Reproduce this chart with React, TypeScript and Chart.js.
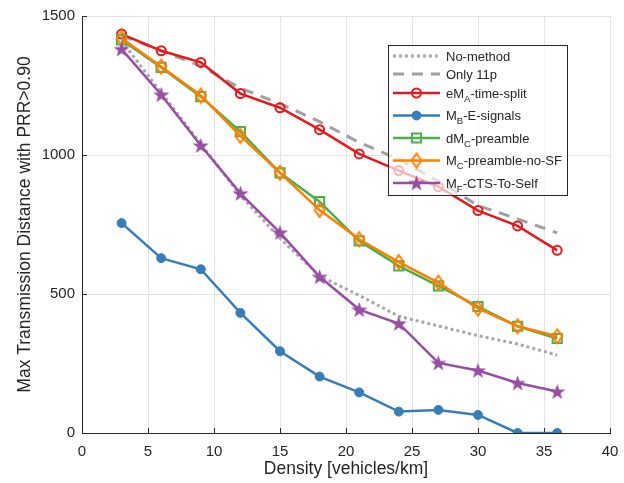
import React, { useEffect, useRef } from 'react';
import { Chart, registerables } from 'chart.js';

Chart.register(...registerables);

// ---------- data ----------
const density = [3, 6, 9, 12, 15, 18, 21, 24, 27, 30, 33, 36];
const noMethod = [1410, 1225, 1040, 855, 700, 565, 495, 420, 385, 350, 320, 280];
const only11p = [1430, 1375, 1320, 1240, 1185, 1120, 1045, 985, 905, 818, 770, 720];
const eMATimeSplit = [1435, 1375, 1333, 1221, 1170, 1091, 1004, 944, 886, 800, 745, 657];
const mBESignals = [755, 629, 589, 432, 294, 203, 146, 77, 83, 65, 0, 0];
const dMCPreamble = [1414, 1315, 1210, 1084, 936, 832, 691, 601, 529, 455, 384, 340];
const mCPreambleNoSF = [1420, 1318, 1214, 1069, 936, 802, 697, 615, 541, 448, 384, 348];
const mFCtsToSelf = [1381, 1217, 1034, 862, 721, 562, 444, 394, 252, 225, 180, 149];

const xTickValues = [0, 5, 10, 15, 20, 25, 30, 35, 40];
const yTickValues = [0, 500, 1000, 1500];

const xTitle = 'Density [vehicles/km]';
const yTitle = 'Max Transmission Distance with PRR>0.90';

// legend label parts: [main, subscript, rest]
const legendLabels: [string, string, string][] = [
  ['No-method', '', ''],
  ['Only 11p', '', ''],
  ['eM', 'A', '-time-split'],
  ['M', 'B', '-E-signals'],
  ['dM', 'C', '-preamble'],
  ['M', 'C', '-preamble-no-SF'],
  ['M', 'F', '-CTS-To-Self'],
];

// ---------- styles ----------
const FONT = '"Liberation Sans", Arial, Helvetica, sans-serif';
const AXIS_COLOR = '#262626';
const GRID_COLOR = '#e3e3e3';
const RED = 'rgb(228,26,28)';
const BLUE = 'rgb(55,126,184)';
const GREEN = 'rgb(77,175,74)';
const ORANGE = 'rgb(255,127,0)';
const PURPLE = 'rgb(152,78,163)';
const GRAY_DOT = 'rgb(168,168,168)';
const GRAY_DASH = 'rgb(160,160,160)';

function makeStar(color: string, outer: number): HTMLCanvasElement {
  const size = Math.ceil(outer * 2 + 2);
  const c = document.createElement('canvas');
  c.width = size;
  c.height = size;
  const g = c.getContext('2d')!;
  const cx = size / 2;
  const cy = size / 2 + outer * 0.08;
  const inner = outer * 0.4;
  g.beginPath();
  for (let i = 0; i < 10; i++) {
    const r = i % 2 === 0 ? outer : inner;
    const a = -Math.PI / 2 + (i * Math.PI) / 5;
    const x = cx + r * Math.cos(a);
    const y = cy + r * Math.sin(a);
    if (i === 0) g.moveTo(x, y);
    else g.lineTo(x, y);
  }
  g.closePath();
  g.fillStyle = color;
  g.fill();
  return c;
}

function makeDiamond(color: string, w: number, h: number, lw: number): HTMLCanvasElement {
  const c = document.createElement('canvas');
  c.width = w + lw * 2;
  c.height = h + lw * 2;
  const g = c.getContext('2d')!;
  const cx = c.width / 2;
  const cy = c.height / 2;
  g.beginPath();
  g.moveTo(cx, cy - h / 2);
  g.lineTo(cx + w / 2, cy);
  g.lineTo(cx, cy + h / 2);
  g.lineTo(cx - w / 2, cy);
  g.closePath();
  g.lineWidth = lw;
  g.strokeStyle = color;
  g.stroke();
  return c;
}

const insideTicksPlugin = {
  id: 'insideTicks',
  beforeDatasetsDraw(chart: any) {
    const { ctx, chartArea, scales } = chart;
    ctx.save();
    ctx.strokeStyle = AXIS_COLOR;
    ctx.lineWidth = 1;
    ctx.beginPath();
    for (const v of xTickValues) {
      const x = Math.round(scales.x.getPixelForValue(v)) + 0.5;
      ctx.moveTo(x, chartArea.bottom);
      ctx.lineTo(x, chartArea.bottom - 5);
    }
    for (const v of yTickValues) {
      const y = Math.round(scales.y.getPixelForValue(v)) + 0.5;
      ctx.moveTo(chartArea.left, y);
      ctx.lineTo(chartArea.left + 5, y);
    }
    ctx.stroke();
    ctx.restore();
  },
};

function drawMarker(ctx: CanvasRenderingContext2D, ds: any, x: number, y: number) {
  const style = ds.pointStyle;
  if (style instanceof HTMLCanvasElement) {
    ctx.drawImage(style, x - style.width / 2, y - style.height / 2);
    return;
  }
  if (!ds.pointRadius) return;
  ctx.beginPath();
  if (style === 'rect') {
    const s = Math.SQRT1_2 * ds.pointRadius;
    ctx.rect(x - s, y - s, 2 * s, 2 * s);
  } else {
    ctx.arc(x, y, ds.pointRadius, 0, Math.PI * 2);
  }
  if (ds.pointBackgroundColor && ds.pointBackgroundColor !== 'transparent') {
    ctx.fillStyle = ds.pointBackgroundColor;
    ctx.fill();
  }
  ctx.lineWidth = ds.pointBorderWidth || 1;
  ctx.strokeStyle = ds.pointBorderColor;
  ctx.stroke();
}

const legendPlugin = {
  id: 'matlabLegend',
  afterDatasetsDraw(chart: any) {
    const { ctx, chartArea } = chart;
    const bx = chartArea.right - 222;
    const by = chartArea.top + 29;
    const bw = 179;
    const bh = 150;
    const rows = [56, 74, 93, 115.5, 138, 160.5, 183].map((v) => v - 16 + chartArea.top);
    ctx.save();
    ctx.fillStyle = 'rgba(255,255,255,0.68)';
    ctx.fillRect(bx, by, bw, bh);
    ctx.strokeStyle = AXIS_COLOR;
    ctx.lineWidth = 1;
    ctx.strokeRect(Math.round(bx) + 0.5, Math.round(by) + 0.5, bw, bh);
    const datasets = chart.data.datasets;
    legendLabels.forEach((lab, i) => {
      const ds = datasets[i];
      const y = rows[i];
      const x0 = bx + 5;
      const x1 = bx + 52;
      ctx.save();
      ctx.beginPath();
      ctx.setLineDash(ds.borderDash || []);
      ctx.lineWidth = ds.borderWidth;
      ctx.strokeStyle = ds.borderColor;
      ctx.moveTo(x0, y);
      ctx.lineTo(x1, y);
      ctx.stroke();
      ctx.setLineDash([]);
      drawMarker(ctx, ds, (x0 + x1) / 2, y);
      ctx.restore();

      ctx.fillStyle = AXIS_COLOR;
      ctx.textBaseline = 'alphabetic';
      ctx.textAlign = 'left';
      let tx = bx + 58;
      const base = y + 4.5;
      ctx.font = `13px ${FONT}`;
      ctx.fillText(lab[0], tx, base);
      tx += ctx.measureText(lab[0]).width;
      if (lab[1]) {
        ctx.font = `9.5px ${FONT}`;
        ctx.fillText(lab[1], tx, base + 4);
        tx += ctx.measureText(lab[1]).width;
        ctx.font = `13px ${FONT}`;
        ctx.fillText(lab[2], tx, base);
      }
    });
    ctx.restore();
  },
};

export default function App() {
  const canvasRef = useRef<HTMLCanvasElement | null>(null);

  useEffect(() => {
    document.body.style.margin = '0';
    const canvas = canvasRef.current;
    if (!canvas) return;

    const star = makeStar(PURPLE, 8.5);
    const diamond = makeDiamond(ORANGE, 10, 14, 2);

    const toXY = (arr: number[]) => arr.map((v, i) => ({ x: density[i], y: v }));

    const datasets: any[] = [
      {
        label: 'No-method',
        data: toXY(noMethod),
        borderColor: GRAY_DOT,
        borderWidth: 3,
        borderDash: [3, 3],
        pointRadius: 0,
        order: 6,
      },
      {
        label: 'Only 11p',
        data: toXY(only11p),
        borderColor: GRAY_DASH,
        borderWidth: 3,
        borderDash: [11, 8],
        pointRadius: 0,
        order: 5,
      },
      {
        label: 'eMA-time-split',
        data: toXY(eMATimeSplit),
        borderColor: RED,
        borderWidth: 2.5,
        pointStyle: 'circle',
        pointRadius: 4.5,
        pointBorderWidth: 2,
        pointBorderColor: RED,
        pointBackgroundColor: 'transparent',
        order: 4,
      },
      {
        label: 'MB-E-signals',
        data: toXY(mBESignals),
        borderColor: BLUE,
        borderWidth: 2.5,
        pointStyle: 'circle',
        pointRadius: 4.5,
        pointBorderWidth: 1,
        pointBorderColor: BLUE,
        pointBackgroundColor: BLUE,
        order: 3,
      },
      {
        label: 'dMC-preamble',
        data: toXY(dMCPreamble),
        borderColor: GREEN,
        borderWidth: 2.5,
        pointStyle: 'rect',
        pointRadius: 6.5,
        pointBorderWidth: 2,
        pointBorderColor: GREEN,
        pointBackgroundColor: 'transparent',
        order: 2,
      },
      {
        label: 'MC-preamble-no-SF',
        data: toXY(mCPreambleNoSF),
        borderColor: ORANGE,
        borderWidth: 2.5,
        pointStyle: diamond,
        pointRadius: 7,
        order: 1,
      },
      {
        label: 'MF-CTS-To-Self',
        data: toXY(mFCtsToSelf),
        borderColor: PURPLE,
        borderWidth: 2.5,
        pointStyle: star,
        pointRadius: 8,
        order: 0,
      },
    ];
    datasets.forEach((d) => {
      d.fill = false;
      d.tension = 0;
      d.backgroundColor = d.pointBackgroundColor || d.borderColor;
    });

    const tickFont = { family: FONT, size: 15 };
    const titleFont = { family: FONT, size: 17.5 };

    const chart = new Chart(canvas, {
      type: 'line',
      data: { datasets },
      options: {
        animation: false,
        responsive: true,
        maintainAspectRatio: false,
        layout: { padding: { top: 16, right: 14, left: 0, bottom: 0 } },
        plugins: {
          legend: { display: false },
          tooltip: { enabled: false },
        },
        scales: {
          x: {
            type: 'linear',
            min: 0,
            max: 40,
            afterFit: (s: any) => {
              s.height = 50;
              s.paddingLeft = 0;
              s.paddingRight = 0;
            },
            afterBuildTicks: (s: any) => {
              s.ticks = xTickValues.map((v) => ({ value: v }));
            },
            grid: { color: GRID_COLOR, lineWidth: 1, drawTicks: false },
            border: { display: true, color: AXIS_COLOR, width: 1 },
            ticks: {
              color: AXIS_COLOR,
              font: tickFont,
              padding: 10,
              maxRotation: 0,
              callback: (v: any) => String(v),
            },
            title: {
              display: true,
              text: xTitle,
              color: AXIS_COLOR,
              font: titleFont,
              padding: { top: 0, bottom: 3 },
            },
          },
          y: {
            type: 'linear',
            min: 0,
            max: 1500,
            afterFit: (s: any) => {
              s.width = 82;
              s.paddingTop = 0;
              s.paddingBottom = 0;
            },
            afterBuildTicks: (s: any) => {
              s.ticks = yTickValues.map((v) => ({ value: v }));
            },
            grid: { color: GRID_COLOR, lineWidth: 1, drawTicks: false },
            border: { display: true, color: AXIS_COLOR, width: 1 },
            ticks: {
              color: AXIS_COLOR,
              font: tickFont,
              padding: 7,
              callback: (v: any) => String(v),
            },
            title: {
              display: true,
              text: yTitle,
              color: AXIS_COLOR,
              font: titleFont,
              padding: { top: 15, bottom: 0 },
            },
          },
        },
      },
      plugins: [insideTicksPlugin, legendPlugin],
    });

    return () => {
      chart.destroy();
    };
  }, []);

  return (
    <div style={{ position: 'relative', width: 624, height: 483 }}>
      <canvas ref={canvasRef} />
    </div>
  );
}
